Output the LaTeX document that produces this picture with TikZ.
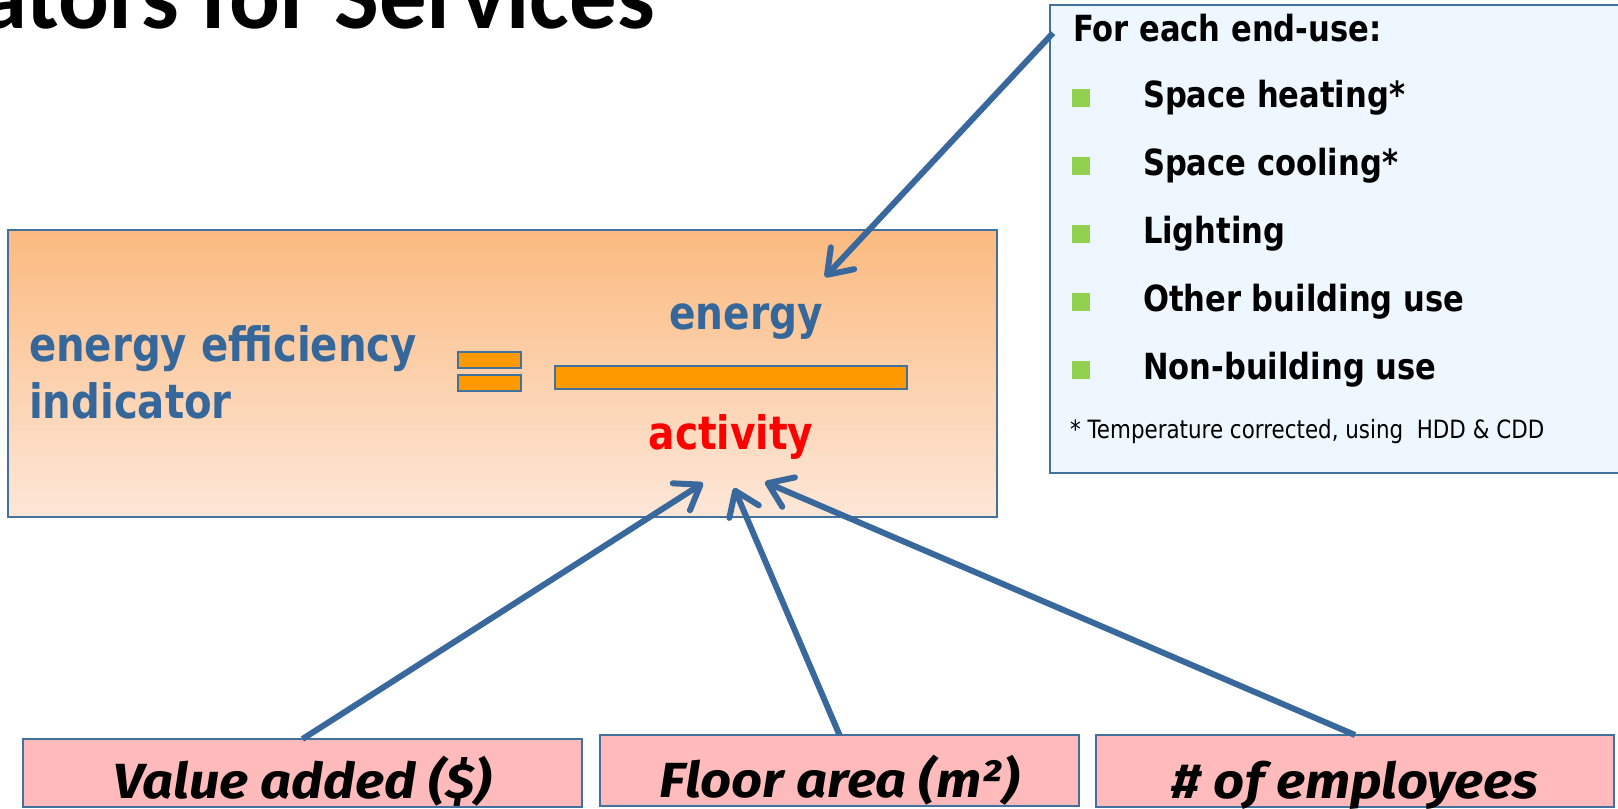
\documentclass[tikz,border=0pt]{standalone}
\usepackage{fontspec}
\usetikzlibrary{arrows.meta}
\newfontfamily\bodyfont[FakeStretch=0.85]{DejaVu Sans}
\newfontfamily\titlefont{Carlito}
\newfontfamily\boxfont[FakeStretch=1.1]{Fira Sans}
\definecolor{txtblue}{RGB}{54,103,155}
\definecolor{linblue}{RGB}{56,104,156}
\definecolor{edgeblue}{RGB}{65,113,156}
\definecolor{barorange}{RGB}{255,153,0}
\definecolor{pinkfill}{RGB}{255,187,187}
\definecolor{callfill}{RGB}{238,247,254}
\definecolor{bulgreen}{RGB}{146,208,80}
\definecolor{gradtop}{RGB}{251,186,128}
\definecolor{gradbot}{RGB}{253,231,216}
\begin{document}
\begin{tikzpicture}[x=0.75pt,y=-0.75pt,
  panel/.style={draw=edgeblue, line width=1.5pt, anchor=north west, inner sep=0pt, outer sep=0pt},
  txt/.style={inner sep=0pt, outer sep=0pt},
  conn/.style={draw=linblue, line width=4.5pt, -{Straight Barb[length=17pt,width=24pt,round]}},
  eqbar/.style={draw=edgeblue, line width=1.5pt, fill=barorange, anchor=north west, inner sep=0pt, outer sep=0pt},
  bulletbox/.style={fill=bulgreen, draw=none, anchor=north west, inner sep=0pt, minimum size=13.5pt},
  bigtxt/.style={txt, font=\bodyfont\bfseries\fontsize{34.5}{40}\selectfont},
  caltxt/.style={txt, anchor=base west, font=\bodyfont\bfseries\fontsize{27}{32}\selectfont},
  boxtxt/.style={txt, anchor=base, font=\boxfont\bfseries\itshape\fontsize{37}{42}\selectfont},
]
\useasboundingbox (0,0) rectangle (1618,809);
\clip (0,0) rectangle (1618,809);

% title (cut off)
\node[txt, anchor=base east, font=\titlefont\bfseries\fontsize{71}{80}\selectfont] (title) at (655,29) {ators for Services};

% main panel
\node[panel, minimum width=741.75pt, minimum height=215.25pt, top color=gradtop, bottom color=gradbot] (eqpanel) at (8,230) {};
\node[bigtxt, text=txtblue, anchor=base west, font=\bodyfont\bfseries\fontsize{35.5}{40}\selectfont] (eei1) at (29,362) {energy efficiency};
\node[bigtxt, text=txtblue, anchor=base west, font=\bodyfont\bfseries\fontsize{35.5}{40}\selectfont] (eei2) at (29,418) {indicator};
\node[eqbar, minimum width=47.25pt, minimum height=12pt] (eqtop) at (458,352) {};
\node[eqbar, minimum width=47.25pt, minimum height=12pt] (eqbot) at (458,375) {};
\node[eqbar, minimum width=264pt, minimum height=17.25pt] (frac) at (555,366) {};
\node[bigtxt, text=txtblue, anchor=base] (energy) at (746,330) {energy};
\node[bigtxt, text=red, anchor=base] (activity) at (731,450) {activity};

% callout
\node[panel, fill=callfill, minimum width=435pt, minimum height=351pt] (callout) at (1050,5) {};
\node[caltxt] (hdr) at (1073,42) {For each end-use:};
\node[bulletbox] (b1) at (1072,89) {};
\node[caltxt] (i1) at (1143,108) {Space heating*};
\node[bulletbox] (b2) at (1072,157) {};
\node[caltxt] (i2) at (1143,176) {Space cooling*};
\node[bulletbox] (b3) at (1072,225) {};
\node[caltxt] (i3) at (1143,244) {Lighting};
\node[bulletbox] (b4) at (1072,293) {};
\node[caltxt] (i4) at (1143,312) {Other building use};
\node[bulletbox] (b5) at (1072,361) {};
\node[caltxt] (i5) at (1143,380) {Non-building use};
\node[txt, anchor=base west, font=\bodyfont\fontsize{18.9}{22}\selectfont] (note) at (1070,438) {* Temperature corrected, using\ \ HDD \& CDD};

% bottom boxes
\node[panel, fill=pinkfill, minimum width=419.25pt, minimum height=51pt] (vbox) at (23,739) {};
\node[panel, fill=pinkfill, minimum width=359.25pt, minimum height=53.25pt] (fbox) at (600,735) {};
\node[panel, fill=pinkfill, minimum width=388.5pt, minimum height=54pt] (ebox) at (1096,735) {};
\node[boxtxt] (vtxt) at (302.5,798) {Value added (\$)};
\node[boxtxt] (ftxt) at (839.5,797) {Floor area (m²)};
\node[boxtxt] (etxt) at (1355,798) {\# of employees};

% connectors
\coordinate (cstart) at (1053,33);
\coordinate (tipE) at (825,277);
\coordinate (tipV) at (703,483);
\coordinate (tipF) at (734,488);
\coordinate (tipM) at (765,482);
\draw[conn] (cstart) -- (tipE);
\draw[conn] (vbox.north) -- (tipV);
\draw[conn] (fbox.north) -- (tipF);
\draw[conn] (ebox.north) -- (tipM);
\end{tikzpicture}
\end{document}
